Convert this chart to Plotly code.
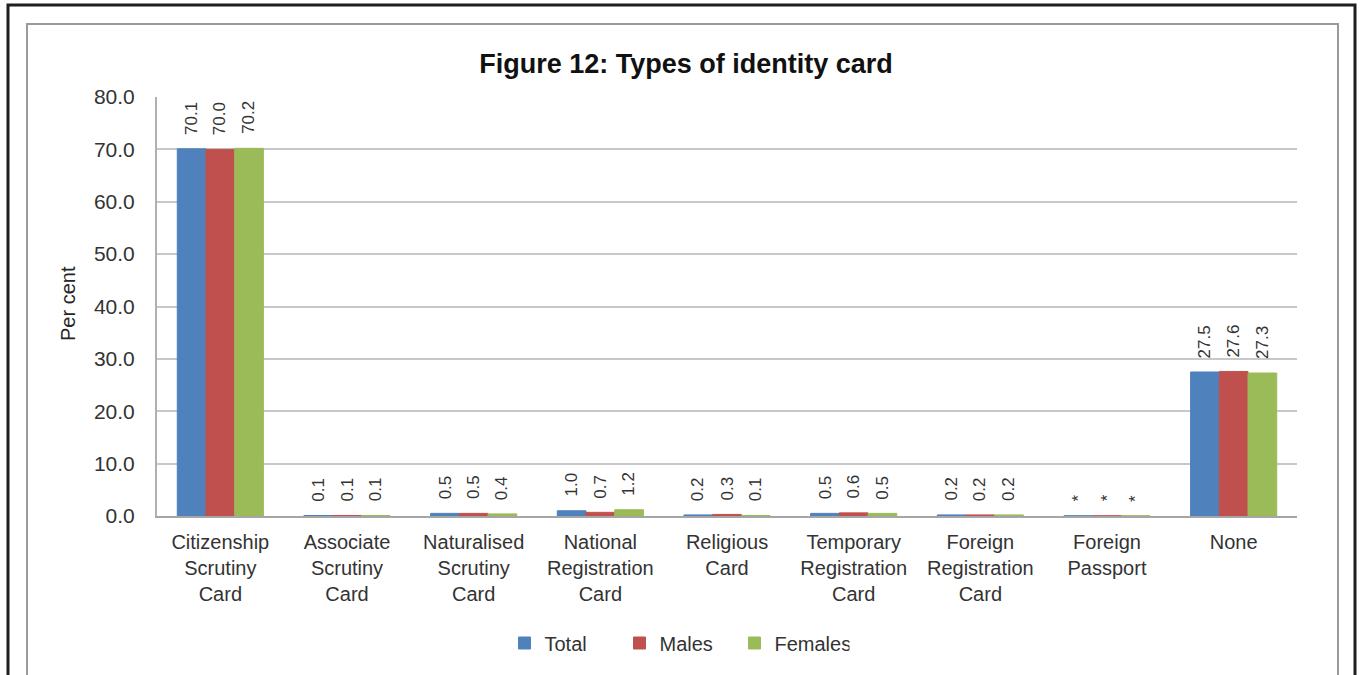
import plotly.graph_objects as go

# Category labels and series values (per cent)
categories = [
    "Citizenship<br>Scrutiny<br>Card",
    "Associate<br>Scrutiny<br>Card",
    "Naturalised<br>Scrutiny<br>Card",
    "National<br>Registration<br>Card",
    "Religious<br>Card",
    "Temporary<br>Registration<br>Card",
    "Foreign<br>Registration<br>Card",
    "Foreign<br>Passport",
    "None",
]
total = [70.1, 0.1, 0.5, 1.0, 0.2, 0.5, 0.2, 0.04, 27.5]
males = [70.0, 0.1, 0.5, 0.7, 0.3, 0.6, 0.2, 0.04, 27.6]
females = [70.2, 0.1, 0.4, 1.2, 0.1, 0.5, 0.2, 0.04, 27.3]
# "*" marks a share below 0.05 per cent
total_labels = ["70.1", "0.1", "0.5", "1.0", "0.2", "0.5", "0.2", "*", "27.5"]
males_labels = ["70.0", "0.1", "0.5", "0.7", "0.3", "0.6", "0.2", "*", "27.6"]
females_labels = ["70.2", "0.1", "0.4", "1.2", "0.1", "0.5", "0.2", "*", "27.3"]
y_ticks = [0, 10, 20, 30, 40, 50, 60, 70, 80]

series = [
    ("Total", total, total_labels, "#4F81BD"),
    ("Males", males, males_labels, "#C0504D"),
    ("Females", females, females_labels, "#9BBB59"),
]

W, H = 1360, 675
ML, MR, MT, MB = 157, 63, 97, 159
PW, PH = W - ML - MR, H - MT - MB
BARGAP = 0.32
FONT = "Liberation Sans, Arial, sans-serif"
TXT = "#333333"

fig = go.Figure()
for name, vals, _, col in series:
    fig.add_trace(go.Bar(
        name=name, x=categories, y=vals, marker_color=col,
        marker_line=dict(color=col, width=1),
    ))

# value labels, rotated, above each bar
cat_px = PW / len(categories)
bar_px = cat_px * (1 - BARGAP) / len(series)
annotations = []
for k, (name, vals, labels, col) in enumerate(series):
    shift = (k - 1) * bar_px
    for c, v, lab in zip(categories, vals, labels):
        annotations.append(dict(
            x=c, y=v, xref="x", yref="y", text=lab, showarrow=False,
            textangle=-90, xanchor="center", yanchor="bottom",
            xshift=shift, yshift=12,
            font=dict(family=FONT, size=17, color=TXT),
        ))

# y axis title
annotations.append(dict(
    x=(68 - ML) / PW, y=(H - MB - 303) / PH, xref="paper", yref="paper",
    text="Per cent", showarrow=False, textangle=-90,
    xanchor="center", yanchor="middle",
    font=dict(family=FONT, size=20, color="#262626"),
))


def px_x(p):
    return (p - ML) / PW


def px_y(p):
    return (H - MB - p) / PH


shapes = [
    # outer dark frame
    dict(type="rect", xref="paper", yref="paper",
         x0=px_x(8), x1=px_x(1355), y0=px_y(5), y1=px_y(H + 20),
         line=dict(color="#1e1e1e", width=3), fillcolor="rgba(0,0,0,0)",
         layer="above"),
    # inner chart-area frame
    dict(type="rect", xref="paper", yref="paper",
         x0=px_x(27), x1=px_x(1338), y0=px_y(24), y1=px_y(H + 20),
         line=dict(color="#9a9a9a", width=2), fillcolor="rgba(0,0,0,0)",
         layer="above"),
]

fig.update_layout(
    width=W, height=H,
    margin=dict(l=ML, r=MR, t=MT, b=MB, pad=0),
    paper_bgcolor="white", plot_bgcolor="white",
    barmode="group", bargap=BARGAP, bargroupgap=0,
    title=dict(
        text="<b>Figure 12: Types of identity card</b>",
        x=686 / W, xref="container", xanchor="center",
        y=1 - 64 / H, yref="container", yanchor="middle",
        font=dict(family=FONT, size=27, color="#111111"),
    ),
    font=dict(family=FONT, size=20, color=TXT),
    legend=dict(
        orientation="h", x=px_x(677), xanchor="center",
        y=px_y(643), yanchor="middle",
        font=dict(family=FONT, size=20, color=TXT),
        entrywidth=70, itemwidth=30,
        bgcolor="rgba(0,0,0,0)",
    ),
    annotations=annotations,
    shapes=shapes,
    showlegend=True,
)

fig.update_xaxes(
    showline=True, linecolor="#a6a6a6", linewidth=2,
    ticks="", ticklabelstandoff=7,
    tickfont=dict(family=FONT, size=20, color=TXT),
    showgrid=False,
)
fig.update_yaxes(
    range=[0, 80], tickvals=y_ticks, tickformat=".1f",
    showline=True, linecolor="#b0b0b0", linewidth=2,
    showgrid=True, gridcolor="#c8c8c8", gridwidth=1.5,
    ticks="", ticklabelstandoff=16,
    tickfont=dict(family=FONT, size=21, color=TXT),
    zeroline=False,
)

fig.write_html("out.html")
